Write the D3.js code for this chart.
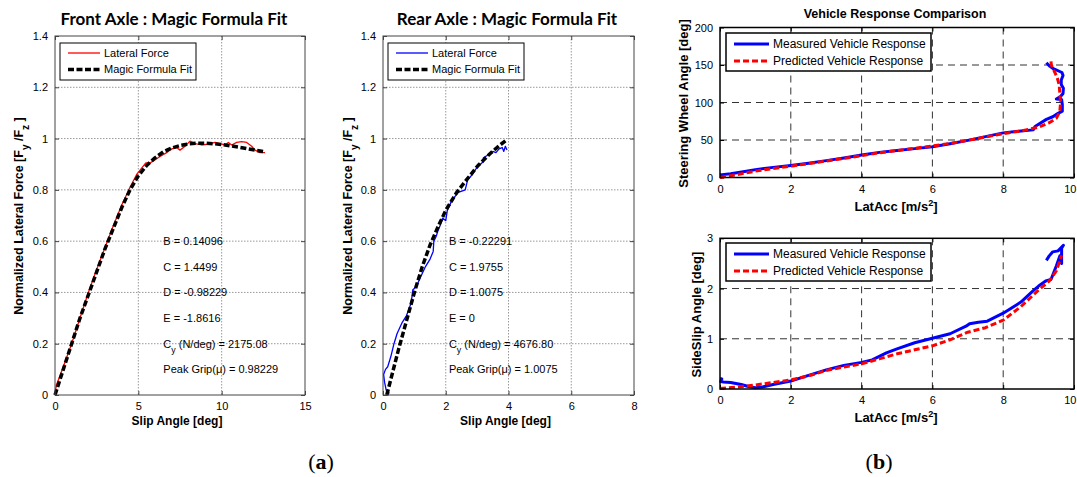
<!DOCTYPE html>
<html><head><meta charset="utf-8">
<script src="https://cdn.jsdelivr.net/npm/d3@7"></script>
<style>
body{margin:0;background:#fff;}
svg{display:block;font-family:"Liberation Sans",Arial,sans-serif;}
</style>
</head><body>
<svg id="c" width="1077" height="477"></svg>
<script>
// ---------- DATA ----------
const frontLateralForce = [[0,0],[0.08,0.04],[0.15,0.05],[0.5,0.11],[1,0.2],[1.5,0.3],[2,0.4],[2.5,0.49],[3,0.575],[3.5,0.66],[4,0.74],[4.5,0.81],[4.9,0.86],[5.2,0.885],[5.45,0.905],[5.7,0.905],[5.95,0.915],[6.3,0.93],[6.7,0.945],[7.0,0.96],[7.3,0.965],[7.5,0.955],[7.8,0.97],[8.1,0.99],[8.4,0.98],[8.8,0.975],[9.2,0.978],[9.6,0.985],[9.9,0.98],[10.2,0.975],[10.4,0.985],[10.6,0.975],[10.9,0.985],[11.2,0.988],[11.5,0.985],[11.8,0.97],[12.0,0.955],[12.3,0.945],[12.6,0.945]];
const frontFit = [[0,0],[0.5,0.1],[1,0.2],[1.5,0.3],[2,0.39],[2.5,0.48],[3,0.57],[3.5,0.65],[4,0.73],[4.5,0.8],[5,0.855],[5.5,0.895],[6,0.925],[6.5,0.948],[7,0.963],[7.5,0.973],[8,0.979],[8.5,0.982],[9,0.982],[9.5,0.98],[10,0.977],[10.5,0.972],[11,0.967],[11.5,0.961],[12,0.955],[12.6,0.948]];
const rearLateralForce = [[0.2,0.01],[0.15,0],[0.1,0.02],[0.05,0.05],[0.02,0.08],[0.08,0.1],[0.15,0.11],[0.25,0.15],[0.35,0.2],[0.45,0.24],[0.6,0.28],[0.75,0.31],[0.9,0.36],[0.95,0.41],[1.05,0.42],[1.2,0.46],[1.35,0.5],[1.5,0.53],[1.6,0.56],[1.62,0.6],[1.7,0.62],[1.75,0.64],[1.85,0.67],[1.9,0.69],[2.0,0.68],[2.05,0.72],[2.2,0.76],[2.4,0.79],[2.62,0.8],[2.7,0.84],[2.85,0.86],[2.95,0.88],[3.1,0.9],[3.2,0.91],[3.2,0.925],[3.4,0.94],[3.5,0.95],[3.6,0.945],[3.7,0.96],[3.8,0.965],[3.85,0.95],[3.9,0.97],[3.95,0.955]];
const rearFit = [[0.12,0],[0.5,0.18],[1,0.4],[1.25,0.5],[1.5,0.585],[1.75,0.655],[2,0.72],[2.35,0.79],[2.7,0.845],[3.03,0.895],[3.4,0.94],[3.7,0.972],[3.94,0.995]];
const frontParams = ["B = 0.14096","C = 1.4499","D = -0.98229","E = -1.8616","Cy (N/deg) = 2175.08","Peak Grip(μ) = 0.98229"];
const rearParams = ["B = -0.22291","C = 1.9755","D = 1.0075","E = 0","Cy (N/deg) = 4676.80","Peak Grip(μ) = 1.0075"];
const steerMeasured = [[0,3.5],[0.3,5],[0.7,8],[1,10.5],[1.5,13.5],[2,16],[2.5,19],[3,22.5],[3.5,26],[4,30],[4.5,33.5],[5,36],[5.5,38.5],[6,41],[6.5,45],[7,49.5],[7.5,54.5],[8,59.5],[8.5,62],[8.85,63.5],[8.9,68],[9.0,71],[9.22,77.5],[9.4,81],[9.55,85.5],[9.67,88.5],[9.67,97],[9.65,104],[9.5,104.7],[9.62,108],[9.69,112],[9.7,119],[9.64,124],[9.64,130],[9.69,136],[9.66,140],[9.4,145.5],[9.3,149],[9.22,153]];
const steerPredicted = [[0,0],[0.5,4],[1,8.5],[1.5,12],[2,15],[2.5,18.5],[3,22],[3.5,25.5],[4,29],[4.5,33],[5,36],[5.5,39],[6,42],[6.5,45.5],[7,49.5],[7.5,54],[8,58.5],[8.5,62],[9,67],[9.3,73],[9.5,79],[9.6,88],[9.62,100],[9.6,112],[9.58,124],[9.52,134],[9.42,144],[9.36,150],[9.35,155]];
const slipMeasured = [[0,0.21],[0.05,0.2],[0.02,0.15],[0.1,0.14],[0.3,0.13],[0.6,0.09],[0.8,0.05],[1.0,0.025],[1.2,0.04],[1.5,0.09],[2,0.16],[2.5,0.27],[3,0.38],[3.5,0.47],[4,0.53],[4.3,0.58],[4.7,0.72],[5,0.8],[5.5,0.92],[6,1.01],[6.5,1.1],[6.95,1.25],[7.05,1.3],[7.3,1.33],[7.55,1.35],[8,1.51],[8.5,1.73],[8.85,1.96],[9.0,2.05],[9.2,2.15],[9.35,2.18],[9.5,2.45],[9.6,2.65],[9.65,2.5],[9.65,2.8],[9.7,2.86],[9.55,2.75],[9.4,2.73],[9.3,2.65],[9.22,2.56]];
const slipPredicted = [[0,0.01],[0.5,0.04],[1,0.08],[1.5,0.13],[2,0.18],[2.5,0.26],[3,0.37],[3.5,0.44],[4,0.5],[4.5,0.6],[5,0.7],[5.5,0.78],[6,0.86],[6.5,0.98],[7,1.13],[7.5,1.22],[8,1.37],[8.5,1.64],[9,1.97],[9.3,2.15],[9.5,2.35],[9.6,2.55],[9.65,2.66]];
const forceTicks = [0,0.2,0.4,0.6,0.8,1,1.2,1.4];
const frontSlipTicks = [0,5,10,15];
const rearSlipTicks = [0,2,4,6,8];
const latAccTicks = [0,2,4,6,8,10];
const steerTicks = [0,50,100,150,200];
const sideSlipTicks = [0,1,2,3];

const svg = d3.select("#c");
const line = (sx, sy) => d3.line().x(d => sx(d[0])).y(d => sy(d[1]));

function panel(o){
  const g = svg.append("g");
  const sx = d3.scaleLinear().domain(o.xd).range(o.xr);
  const sy = d3.scaleLinear().domain(o.yd).range(o.yr);
  const [x0,x1] = o.xr, [y0,y1] = [o.yr[1], o.yr[0]];
  g.append("rect").attr("x",x0).attr("y",y0).attr("width",x1-x0).attr("height",y1-y0).attr("fill","#fff");
  g.selectAll(".gx").data(o.xt.filter(v=>sx(v)>x0+1 && sx(v)<x1-1)).join("line")
    .attr("x1",d=>sx(d)).attr("x2",d=>sx(d)).attr("y1",y0).attr("y2",y1)
    .attr("stroke",o.gridColor).attr("stroke-width",1).attr("stroke-dasharray",o.gridDash);
  g.selectAll(".gy").data(o.yt.filter(v=>sy(v)>y0+1 && sy(v)<y1-1)).join("line")
    .attr("y1",d=>sy(d)).attr("y2",d=>sy(d)).attr("x1",x0).attr("x2",x1)
    .attr("stroke",o.gridColor).attr("stroke-width",1).attr("stroke-dasharray",o.gridDash);
  const ax = d3.axisBottom(sx).tickValues(o.xt).tickSize(-4).tickPadding(9).tickFormat(d3.format("~g"));
  const ay = d3.axisLeft(sy).tickValues(o.yt).tickSize(-4).tickPadding(7).tickFormat(d3.format("~g"));
  const gx = g.append("g").attr("transform",`translate(0,${y1})`).call(ax);
  const gy = g.append("g").attr("transform",`translate(${x0},0)`).call(ay);
  g.append("g").attr("transform",`translate(0,${y0})`).call(d3.axisTop(sx).tickValues(o.xt).tickSize(-4).tickFormat(""));
  g.append("g").attr("transform",`translate(${x1},0)`).call(d3.axisRight(sy).tickValues(o.yt).tickSize(-4).tickFormat(""));
  g.selectAll(".domain").remove();
  g.selectAll(".tick line").attr("stroke",o.frameColor);
  g.selectAll("g.tick text").attr("font-size",null).attr("font-family",null)
    .style("font-size","11px").style("font-family","'Liberation Sans', Arial, sans-serif").attr("fill","#000");
  gx.selectAll(".tick text").attr("dy","0.55em");
  // keep last tick label inside the window edge
  gx.selectAll(".tick text").filter(function(){ return sx.range()[1] > 1070 && this.textContent === "10"; })
    .attr("text-anchor","end").attr("x",2);
  o.series.forEach(s=>{
    g.append("path").datum(s.data).attr("d",line(sx,sy)).attr("fill","none")
      .attr("stroke",s.color).attr("stroke-width",s.width).attr("stroke-dasharray",s.dash||null)
      .attr("stroke-linejoin","round");
  });
  g.append("rect").attr("x",x0).attr("y",y0).attr("width",x1-x0).attr("height",y1-y0)
    .attr("fill","none").attr("stroke",o.frameColor).attr("stroke-width",o.frameWidth);
  const L = o.legend;
  g.append("rect").attr("x",L.x).attr("y",L.y).attr("width",L.w).attr("height",L.h)
    .attr("fill","#fff").attr("stroke","#000").attr("stroke-width",L.sw);
  o.series.forEach((s,i)=>{
    const yy = L.y + L.row0 + i*L.rowGap;
    g.append("line").attr("x1",L.lx0).attr("x2",L.lx1).attr("y1",yy).attr("y2",yy)
      .attr("stroke",s.color).attr("stroke-width",s.width).attr("stroke-dasharray",s.dash||null);
    g.append("text").attr("x",L.tx).attr("y",yy).attr("dy","0.36em").style("font-size",L.fs+"px").text(s.name);
  });
  return {g,sx,sy};
}

function addSubLabel(sel, parts){
  parts.forEach(p=>{
    const t = sel.append("tspan").text(p.t);
    if(p.sub){ t.attr("baseline-shift","sub").style("font-size","0.8em"); }
    if(p.sup){ t.attr("baseline-shift","super").style("font-size","0.7em"); }
  });
}

// ---------- Panel (a) ----------
const forceYLabel = [{t:"Normalized Lateral Force [F"},{t:"y",sub:true},{t:" /F"},{t:"z",sub:true},{t:" ]"}];
function axlePanel(cfg){
  const p = panel({
    xd:cfg.xd, xr:cfg.xr, yd:[0,1.4], yr:[395,36], xt:cfg.xt, yt:forceTicks,
    gridColor:"#999", gridDash:"1.5,1.5", frameColor:"#444", frameWidth:1,
    series:[
      {name:"Lateral Force", data:cfg.measured, color:cfg.color, width:1.3},
      {name:"Magic Formula Fit", data:cfg.fit, color:"#000", width:3.5, dash:"6,2.5"}
    ],
    legend:{x:cfg.xr[0]+5, y:43, w:136, h:37, sw:1, row0:10, rowGap:16.5, lx0:cfg.xr[0]+13, lx1:cfg.xr[0]+45, tx:cfg.xr[0]+49, fs:11}
  });
  svg.append("text").attr("x",cfg.titleX).attr("y",25).attr("text-anchor","middle")
    .style("font-family","Lato, sans-serif").style("font-weight","700").style("font-size","17px").text(cfg.title);
  svg.append("text").attr("x",(cfg.xr[0]+cfg.xr[1])/2-3).attr("y",425).attr("text-anchor","middle")
    .style("font-weight","bold").style("font-size","12px").text("Slip Angle [deg]");
  const yl = svg.append("text").attr("transform",`translate(${cfg.ylX},216) rotate(-90)`).attr("text-anchor","middle")
    .style("font-weight","bold").style("font-size","12.5px");
  addSubLabel(yl, forceYLabel);
  cfg.params.forEach((s,i)=>{
    const t = p.g.append("text").attr("x",p.sx(cfg.textX)).attr("y",p.sy(0.6-0.1*i)).attr("dy","0.35em").style("font-size","11px");
    if(s.startsWith("Cy")){
      addSubLabel(t,[{t:"C"},{t:"y",sub:true},{t:" "+s.slice(3)}]);
    } else t.text(s);
  });
}
axlePanel({xd:[0,15], xr:[55,305], xt:frontSlipTicks, measured:frontLateralForce, fit:frontFit, color:"#f00",
  title:"Front Axle : Magic Formula Fit", titleX:174, ylX:23, params:frontParams, textX:6.5});
axlePanel({xd:[0,8], xr:[383,634], xt:rearSlipTicks, measured:rearLateralForce, fit:rearFit, color:"#00f",
  title:"Rear Axle : Magic Formula Fit", titleX:507, ylX:352, params:rearParams, textX:2.1});

// ---------- Panel (b) ----------
function vehPanel(cfg){
  panel({
    xd:[0,10], xr:[720,1074], yd:cfg.yd, yr:cfg.yr, xt:latAccTicks, yt:cfg.yt,
    gridColor:"#333", gridDash:"7,5", frameColor:"#000", frameWidth:1.5,
    series:[
      {name:"Measured Vehicle Response", data:cfg.measured, color:"#00f", width:3},
      {name:"Predicted Vehicle Response", data:cfg.predicted, color:"#f00", width:3, dash:"6,3"}
    ],
    legend:{x:726, y:cfg.legY, w:205, h:38, sw:1.5, row0:11, rowGap:17, lx0:734, lx1:769, tx:773, fs:12}
  });
  const xl = svg.append("text").attr("x",896).attr("y",cfg.yr[0]+33).attr("text-anchor","middle")
    .style("font-weight","bold").style("font-size","13px");
  addSubLabel(xl,[{t:"LatAcc [m/s"},{t:"2",sup:true},{t:"]"}]);
  svg.append("text").attr("transform",`translate(${cfg.ylX},${(cfg.yr[0]+cfg.yr[1])/2+1}) rotate(-90)`)
    .attr("text-anchor","middle").style("font-weight","bold").style("font-size","13px").text(cfg.ylabel);
}
vehPanel({yd:[0,200], yr:[177.5,27.5], yt:steerTicks, measured:steerMeasured, predicted:steerPredicted,
  legY:33, ylX:688, ylabel:"Steering Wheel Angle [deg]"});
vehPanel({yd:[0,3], yr:[389,238.3], yt:sideSlipTicks, measured:slipMeasured, predicted:slipPredicted,
  legY:243, ylX:701, ylabel:"SideSlip Angle [deg]"});
svg.append("text").attr("x",895).attr("y",18).attr("text-anchor","middle")
  .style("font-weight","bold").style("font-size","12.5px").text("Vehicle Response Comparison");

// sub-figure labels
[["a",321],["b",879]].forEach(([l,x])=>{
  const t = svg.append("text").attr("x",x).attr("y",469).attr("text-anchor","middle")
    .style("font-family","'Liberation Serif', 'DejaVu Serif', serif").style("font-size","22px");
  t.append("tspan").text("(");
  t.append("tspan").style("font-weight","bold").text(l);
  t.append("tspan").text(")");
});
</script>
</body></html>
